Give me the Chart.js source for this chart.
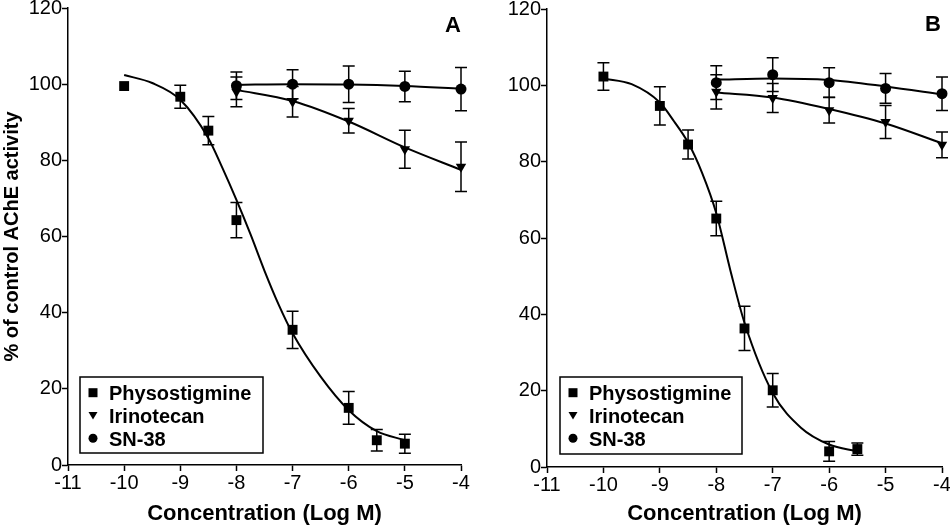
<!DOCTYPE html>
<html><head><meta charset="utf-8">
<script src="https://cdn.jsdelivr.net/npm/chart.js@4.4.1/dist/chart.umd.min.js"></script>
<style>
html,body{margin:0;padding:0;background:#fff;overflow:hidden;width:950px;height:527px;}
#wrap{position:relative;width:950px;height:527px;overflow:hidden;background:#fff;}
#cA{position:absolute;left:0;top:-20px;}
#cB{position:absolute;left:475px;top:-20px;}
</style></head><body>
<div id="wrap"><canvas id="cA" width="475" height="547"></canvas><canvas id="cB" width="490" height="547"></canvas></div>
<script>
// ---------- data ----------
const seriesNames = ['Physostigmine', 'Irinotecan', 'SN-38'];
const xTicks = [-11, -10, -9, -8, -7, -6, -5, -4];
const yTicks = [0, 20, 40, 60, 80, 100, 120];
const xTitle = 'Concentration (Log M)';
const yTitle = '% of control AChE activity';

// Panel A
const concPhysoA = [-10, -9, -8.5, -8, -7, -6, -5.5, -5];
const physoA     = [99.5, 96.7, 87.8, 64.3, 35.5, 15.0, 6.5, 5.6];
const physoErrA  = [0, 3.0, 3.7, 4.6, 4.9, 4.3, 2.8, 2.5];
const concOtherA = [-8, -7, -6, -5, -4];
const irinoA     = [98.0, 95.4, 90.4, 82.9, 78.3];
const irinoErrA  = [3.9, 4.0, 3.2, 5.0, 6.5];
const sn38A      = [99.6, 100.0, 100.0, 99.4, 98.7];
const sn38ErrA   = [3.6, 3.8, 4.8, 4.0, 5.7];
// fitted curves
const fitPhysoXA = [-10, -9.5, -9, -8.5, -8.25, -8, -7.75, -7.5, -7.25, -7, -6.5, -6, -5.5, -5];
const fitPhysoYA = [102.4, 100.3, 95.9, 85.8, 78.0, 69.6, 60.6, 51.0, 42.2, 34.6, 23.2, 14.4, 8.9, 6.5];
const fitOtherXA = [-8, -7, -6, -5, -4];
const fitIrinoYA = [98.5, 95.6, 90.2, 83.4, 77.5];
const fitSn38YA  = [99.8, 100.0, 99.9, 99.5, 98.8];

// Panel B
const concPhysoB = [-10, -9, -8.5, -8, -7.5, -7, -6, -5.5];
const physoB     = [102.3, 94.6, 84.5, 65.1, 36.3, 20.1, 4.1, 4.7];
const physoErrB  = [3.6, 5.0, 3.8, 4.5, 5.8, 4.4, 2.6, 1.6];
const concOtherB = [-8, -7, -6, -5, -4];
const irinoB     = [98.3, 96.7, 93.5, 90.4, 84.4];
const irinoErrB  = [4.5, 3.8, 3.4, 4.3, 3.4];
const sn38B      = [100.7, 102.8, 100.7, 99.2, 97.8];
const sn38ErrB   = [4.4, 4.4, 3.9, 3.9, 4.4];
const fitPhysoXB = [-10, -9.5, -9, -8.75, -8.5, -8.25, -8, -7.75, -7.5, -7, -6.5, -6, -5.5];
const fitPhysoYB = [101.8, 100.3, 95.5, 90.6, 85.0, 77.0, 66.5, 51.5, 37.8, 19.4, 10.3, 5.9, 4.1];
const fitOtherXB = [-8, -7, -6, -5, -4];
const fitIrinoYB = [98.1, 96.8, 93.8, 90.0, 84.8];
const fitSn38YB  = [101.5, 101.8, 101.4, 99.7, 97.6];

// ---------- helpers ----------
const FONT = "'Liberation Sans', Arial, Helvetica, sans-serif";
const pts = (xs, ys) => xs.map((x, i) => ({x: x, y: ys[i]}));

const errorBarPlugin = {
  id: 'errorBars',
  afterDatasetsDraw(chart) {
    const ctx = chart.ctx, xs = chart.scales.x, ys = chart.scales.y;
    chart.data.datasets.forEach((ds, i) => {
      if (!ds.errors || !chart.isDatasetVisible(i)) return;
      ctx.save();
      ctx.strokeStyle = '#000'; ctx.lineWidth = 1.5;
      ds.data.forEach((p, j) => {
        const e = ds.errors[j];
        if (!e) return;
        const px = xs.getPixelForValue(p.x);
        const y1 = ys.getPixelForValue(p.y + e), y2 = ys.getPixelForValue(p.y - e);
        ctx.beginPath();
        ctx.moveTo(px, y1); ctx.lineTo(px, y2);
        ctx.moveTo(px - 6, y1); ctx.lineTo(px + 6, y1);
        ctx.moveTo(px - 6, y2); ctx.lineTo(px + 6, y2);
        ctx.stroke();
      });
      ctx.restore();
    });
  }
};

function drawMarker(ctx, style, x, y, s) {
  ctx.beginPath();
  if (style === 'rect') {
    ctx.rect(x - s / 2, y - s / 2, s, s);
  } else if (style === 'triangle') {
    ctx.moveTo(x - s / 2, y - s * 0.4);
    ctx.lineTo(x + s / 2, y - s * 0.4);
    ctx.lineTo(x, y + s * 0.45);
    ctx.closePath();
  } else {
    ctx.arc(x, y, s / 2, 0, Math.PI * 2);
  }
  ctx.fill();
}

const boxLegendPlugin = {
  id: 'boxLegend',
  afterDraw(chart, args, o) {
    const ca = chart.chartArea, ctx = chart.ctx;
    const left = ca.left + o.offsetX, top = ca.bottom - o.offsetY - o.height;
    ctx.save();
    ctx.fillStyle = '#fff';
    ctx.fillRect(left, top, o.width, o.height);
    ctx.strokeStyle = '#000'; ctx.lineWidth = 1.5;
    ctx.strokeRect(left, top, o.width, o.height);
    const items = chart.data.datasets.filter(d => d.inLegend);
    ctx.fillStyle = '#000';
    ctx.font = 'bold 20px ' + FONT;
    ctx.textBaseline = 'alphabetic';
    items.forEach((d, i) => {
      const cy = top + 15.7 + i * 22.8;
      drawMarker(ctx, d.pointStyle, left + 13, cy, 9);
      ctx.fillText(d.label, left + 29, cy + 7.2);
    });
    ctx.restore();
  }
};

const panelLabelPlugin = {
  id: 'panelLabel',
  afterDraw(chart, args, o) {
    const ca = chart.chartArea, ctx = chart.ctx;
    ctx.save();
    ctx.fillStyle = '#000';
    ctx.font = 'bold 22px ' + FONT;
    ctx.textAlign = 'center'; ctx.textBaseline = 'middle';
    ctx.fillText(o.text, ca.right + o.dx, ca.top + o.dy);
    ctx.restore();
  }
};

function pointSet(label, data, errs, style, radius) {
  return {type: 'scatter', label: label, data: data, errors: errs, inLegend: true,
    showLine: false, pointStyle: style, rotation: style === 'triangle' ? 180 : 0,
    pointRadius: radius, pointHoverRadius: radius,
    backgroundColor: '#000', borderColor: '#000', borderWidth: 0, clip: false, order: 1};
}
function curveSet(data) {
  return {type: 'line', label: '', data: data, showLine: true, pointRadius: 0,
    borderColor: '#000', borderWidth: 2, cubicInterpolationMode: 'monotone',
    fill: false, clip: false, order: 2};
}

function makeChart(id, cfg) {
  return new Chart(document.getElementById(id), {
    data: {datasets: [
      curveSet(pts(cfg.fitPX, cfg.fitPY)),
      curveSet(pts(cfg.fitOX, cfg.fitIY)),
      curveSet(pts(cfg.fitOX, cfg.fitSY)),
      pointSet(seriesNames[0], pts(cfg.cP, cfg.p), cfg.pE, 'rect', 7),
      pointSet(seriesNames[1], pts(cfg.cO, cfg.i), cfg.iE, 'triangle', 6),
      pointSet(seriesNames[2], pts(cfg.cO, cfg.s), cfg.sE, 'circle', 5.5)
    ]},
    options: {
      responsive: false, animation: false, devicePixelRatio: 1,
      layout: {padding: cfg.pad},
      plugins: {
        legend: {display: false}, tooltip: {enabled: false},
        boxLegend: cfg.legend,
        panelLabel: cfg.panel
      },
      scales: {
        x: {
          type: 'linear', min: -11, max: -4,
          afterBuildTicks: s => { s.ticks = xTicks.map(v => ({value: v})); },
          afterFit: s => { s.height = cfg.xH; },
          ticks: {color: '#000', font: {family: FONT, size: 20}, padding: 0,
                  callback: v => String(v), maxRotation: 0, autoSkip: false},
          grid: {display: true, drawOnChartArea: false, drawTicks: true, tickLength: 6, tickColor: '#000', tickWidth: 1.5},
          border: {display: true, color: '#000', width: 1.5},
          title: {display: true, text: xTitle, color: '#000', font: {family: FONT, size: 22, weight: 'bold'}, padding: {top: 0, bottom: 0}}
        },
        y: {
          type: 'linear', min: 0, max: 120,
          afterBuildTicks: s => { s.ticks = yTicks.map(v => ({value: v})); },
          afterFit: s => { s.width = cfg.yW; },
          ticks: {color: '#000', font: {family: FONT, size: 20}, padding: 0, callback: v => String(v)},
          grid: {display: true, drawOnChartArea: false, drawTicks: true, tickLength: 6, tickColor: '#000', tickWidth: 1.5},
          border: {display: true, color: '#000', width: 1.5},
          title: {display: cfg.showYTitle, text: yTitle, color: '#000', font: {family: FONT, size: 20, weight: 'bold'}, padding: {top: 0, bottom: 0}}
        }
      }
    },
    plugins: [errorBarPlugin, boxLegendPlugin, panelLabelPlugin]
  });
}

makeChart('cA', {
  cP: concPhysoA, p: physoA, pE: physoErrA, cO: concOtherA, i: irinoA, iE: irinoErrA, s: sn38A, sE: sn38ErrA,
  fitPX: fitPhysoXA, fitPY: fitPhysoYA, fitOX: fitOtherXA, fitIY: fitIrinoYA, fitSY: fitSn38YA,
  pad: {top: 28, right: 14, bottom: 0, left: 0}, yW: 68, xH: 62, showYTitle: true,
  legend: {offsetX: 12, offsetY: 12, width: 183, height: 76},
  panel: {text: 'A', dx: -8, dy: 17.5}
});
makeChart('cB', {
  cP: concPhysoB, p: physoB, pE: physoErrB, cO: concOtherB, i: irinoB, iE: irinoErrB, s: sn38B, sE: sn38ErrB,
  fitPX: fitPhysoXB, fitPY: fitPhysoYB, fitOX: fitOtherXB, fitIY: fitIrinoYB, fitSY: fitSn38YB,
  pad: {top: 29, right: 23, bottom: 0, left: 0}, yW: 72, xH: 60, showYTitle: false,
  legend: {offsetX: 13, offsetY: 13, width: 182, height: 77},
  panel: {text: 'B', dx: -9, dy: 16}
});
</script>
</body></html>
